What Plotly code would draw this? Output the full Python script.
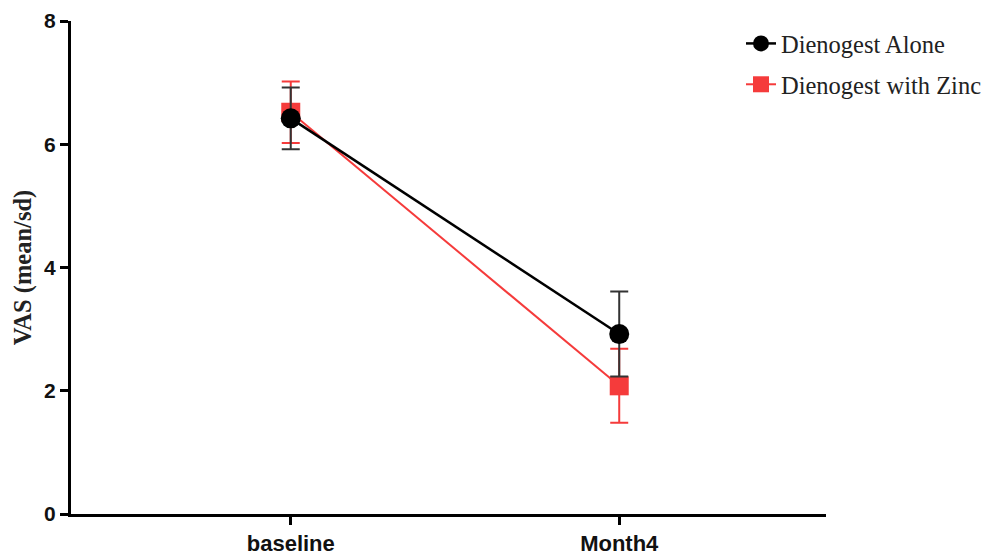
import plotly.graph_objects as go

categories = ["baseline", "Month4"]
x_pos = [1, 2]
alone_mean = [6.42, 2.92]
alone_sd = [0.50, 0.69]
zinc_mean = [6.52, 2.08]
zinc_sd = [0.50, 0.60]
y_ticks = [0, 2, 4, 6, 8]

fig = go.Figure()
fig.add_trace(go.Scatter(
    x=x_pos, y=zinc_mean, name="Dienogest with Zinc", mode="lines+markers",
    line=dict(color="#f53b3b", width=2),
    marker=dict(symbol="square", size=19, color="#f53b3b"),
    error_y=dict(type="data", array=zinc_sd, color="#f53b3b", thickness=2, width=9),
    legendgroup="b", legendrank=2,
))
fig.add_trace(go.Scatter(
    x=x_pos, y=alone_mean, name="Dienogest Alone", mode="lines+markers",
    line=dict(color="black", width=2.5),
    marker=dict(symbol="circle", size=20, color="black"),
    error_y=dict(type="data", array=alone_sd, color="#333333", thickness=2, width=9),
    legendgroup="a", legendrank=1,
))

fig.update_layout(
    width=987, height=553,
    margin=dict(l=71, r=0, t=21, b=39),
    plot_bgcolor="white", paper_bgcolor="white",
    showlegend=True,
    legend=dict(x=(742 - 71) / 916, y=1.0, xanchor="left", yanchor="top",
                font=dict(family="Liberation Serif", size=24.5, color="#222"),
                tracegroupgap=6, bgcolor="rgba(0,0,0,0)"),
    xaxis=dict(range=[0.331, 2.63], tickvals=x_pos, ticktext=categories, automargin=False,
               domain=[0, 756 / 916],
               showgrid=False, zeroline=False, showline=True, linecolor="black", linewidth=3,
               ticks="outside", ticklen=8, tickwidth=3, tickcolor="black",
               tickfont=dict(family="Liberation Sans", size=22, color="#111", weight="bold")),
    yaxis=dict(range=[0, 8], tickvals=y_ticks, automargin=False,
               showgrid=False, zeroline=False, showline=True, linecolor="black", linewidth=3,
               ticks="outside", ticklen=8, tickwidth=3, tickcolor="black",
               tickfont=dict(family="Liberation Sans", size=21, color="#111", weight="bold"),
               title=dict(text="VAS (mean/sd)", standoff=6,
                          font=dict(family="Liberation Serif", size=24.5, color="#222", weight="bold"))),
)

fig.write_html("out.html", post_script="document.body.style.margin='0';",
               config={"displayModeBar": False})
